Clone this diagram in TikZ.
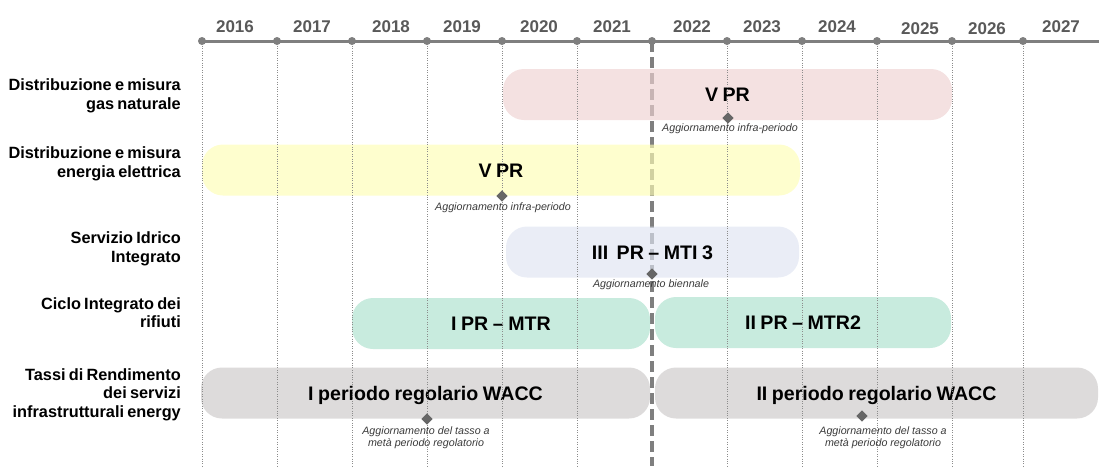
\documentclass[tikz,border=0pt]{standalone}
\usepackage{fontspec}
\setmainfont{Liberation Sans}
\usetikzlibrary{shapes.geometric}
\definecolor{axisgray}{HTML}{7F7F7F}
\definecolor{yeargray}{HTML}{595959}
\definecolor{gridgray}{HTML}{8C8C8C}
\definecolor{notegray}{HTML}{3A3A3A}
\definecolor{diamgray}{HTML}{666666}
\definecolor{pinkbar}{RGB}{238,209,209}
\definecolor{yellowbar}{RGB}{253,253,180}
\definecolor{bluebar}{RGB}{222,227,241}
\definecolor{greenbar}{RGB}{170,224,204}
\definecolor{graybar}{RGB}{203,200,200}
\newcommand\tightspaces{\spaceskip=0.2em plus 0.05em minus 0.02em\relax}
\newcommand\barspaces{\spaceskip=0.23em plus 0.05em minus 0.02em\relax}
\tikzset{
  year/.style={font=\bfseries\fontsize{17}{17}\selectfont, text=yeargray, inner sep=0pt},
  rowlabel/.style={font=\bfseries\fontsize{16.3}{18.5}\selectfont, execute at begin node=\tightspaces, align=right, anchor=east, inner sep=0pt},
  bar/.style={rectangle, rounded corners=21pt, fill opacity=0.65, text opacity=1,
    font=\bfseries\fontsize{19.6}{20}\selectfont, execute at begin node=\barspaces, text height=14pt, text depth=0pt,
    minimum height=51pt, inner sep=0pt},
  note/.style={font=\itshape\fontsize{10.7}{12}\selectfont, text=notegray, align=center, inner sep=0pt},
  milestone/.style={diamond, fill=diamgray, minimum size=11.5pt, inner sep=0pt},
  gridline/.style={draw=gridgray, line width=0.9pt, dash pattern=on 1pt off 1.4pt},
  nowline/.style={draw=axisgray, line width=3.5pt, dash pattern=on 11pt off 5pt},
  axisline/.style={draw=axisgray, line width=3pt},
}
\begin{document}
\begin{tikzpicture}[x=1pt,y=-1pt]
\useasboundingbox (0,0) rectangle (1099,466);

\foreach \x [count=\i] in {202,277,352,427,502,577,652,727,802,877,952,1023}{
  \coordinate (t\i) at (\x,41);
  \coordinate (b\i) at (\x,466);
}
\coordinate (tend) at (1099,41);

% current-year dashed line
\draw[nowline] (t7) -- (b7);

% bars
\node[bar, fill=pinkbar, minimum width=449pt] (gas) at (727.5,94.5) {V PR};
\node[bar, fill=yellowbar, minimum width=598pt] (ele) at (501,170) {V PR};
\node[bar, fill=bluebar, minimum width=293pt] (sii) at (652.5,252) {III\hspace{0.2em} PR -- MTI 3};
\node[bar, fill=greenbar, minimum width=298pt] (mtr1) at (501,323.5) {I PR -- MTR};
\node[bar, fill=greenbar, minimum width=296pt] (mtr2) at (803,322.5) {II PR -- MTR2};
\node[bar, fill=graybar, minimum width=449pt] (wacc1) at (425.5,393) {I periodo regolario WACC};
\node[bar, fill=graybar, minimum width=443pt] (wacc2) at (876.5,393) {II periodo regolario WACC};

% dotted year lines
\foreach \i in {1,2,3,4,5,6,8,9,10,11,12}{
  \draw[gridline] (t\i) -- (b\i);
}

% timeline
\draw[axisline] (t1) -- (tend);
\foreach \i in {1,...,12}{
  \fill[axisgray] (t\i) circle (4pt);
}

% years
\node[year] (y2016) at (235,26.5) {2016};
\node[year] (y2017) at (312,26.5) {2017};
\node[year] (y2018) at (391,26.5) {2018};
\node[year] (y2019) at (462,26.5) {2019};
\node[year] (y2020) at (539,26.5) {2020};
\node[year] (y2021) at (612,26.5) {2021};
\node[year] (y2022) at (692,26.5) {2022};
\node[year] (y2023) at (762,26.5) {2023};
\node[year] (y2024) at (837,26.5) {2024};
\node[year] (y2025) at (920,28.5) {2025};
\node[year] (y2026) at (987,28.5) {2026};
\node[year] (y2027) at (1061,26.5) {2027};

% row labels
\node[rowlabel] (lgas) at (181,96) {Distribuzione e misura\\gas naturale};
\node[rowlabel] (lele) at (181,164) {Distribuzione e misura\\energia elettrica};
\node[rowlabel] (lsii) at (181,249) {Servizio Idrico\\Integrato};
\node[rowlabel] (lrif) at (181,312.5) {Ciclo Integrato dei\\rifiuti};
\node[rowlabel] (lwacc) at (181,394.5) {Tassi di Rendimento\\dei servizi\\infrastrutturali energy};

% milestones
\node[milestone] (m1) at (728,118) {};
\node[milestone] (m2) at (502,196) {};
\node[milestone] (m3) at (652,274) {};
\node[milestone] (m4) at (427,419) {};
\node[milestone] (m5) at (862,416) {};

% notes
\node[note] (n1) at (730,129) {Aggiornamento infra-periodo};
\node[note] (n2) at (503,208) {Aggiornamento infra-periodo};
\node[note] (n3) at (651,285) {Aggiornamento biennale};
\node[note] (n4) at (426,438) {Aggiornamento del tasso a\\metà periodo regolatorio};
\node[note] (n5) at (883,438) {Aggiornamento del tasso a\\metà periodo regolatorio};
\end{tikzpicture}
\end{document}
